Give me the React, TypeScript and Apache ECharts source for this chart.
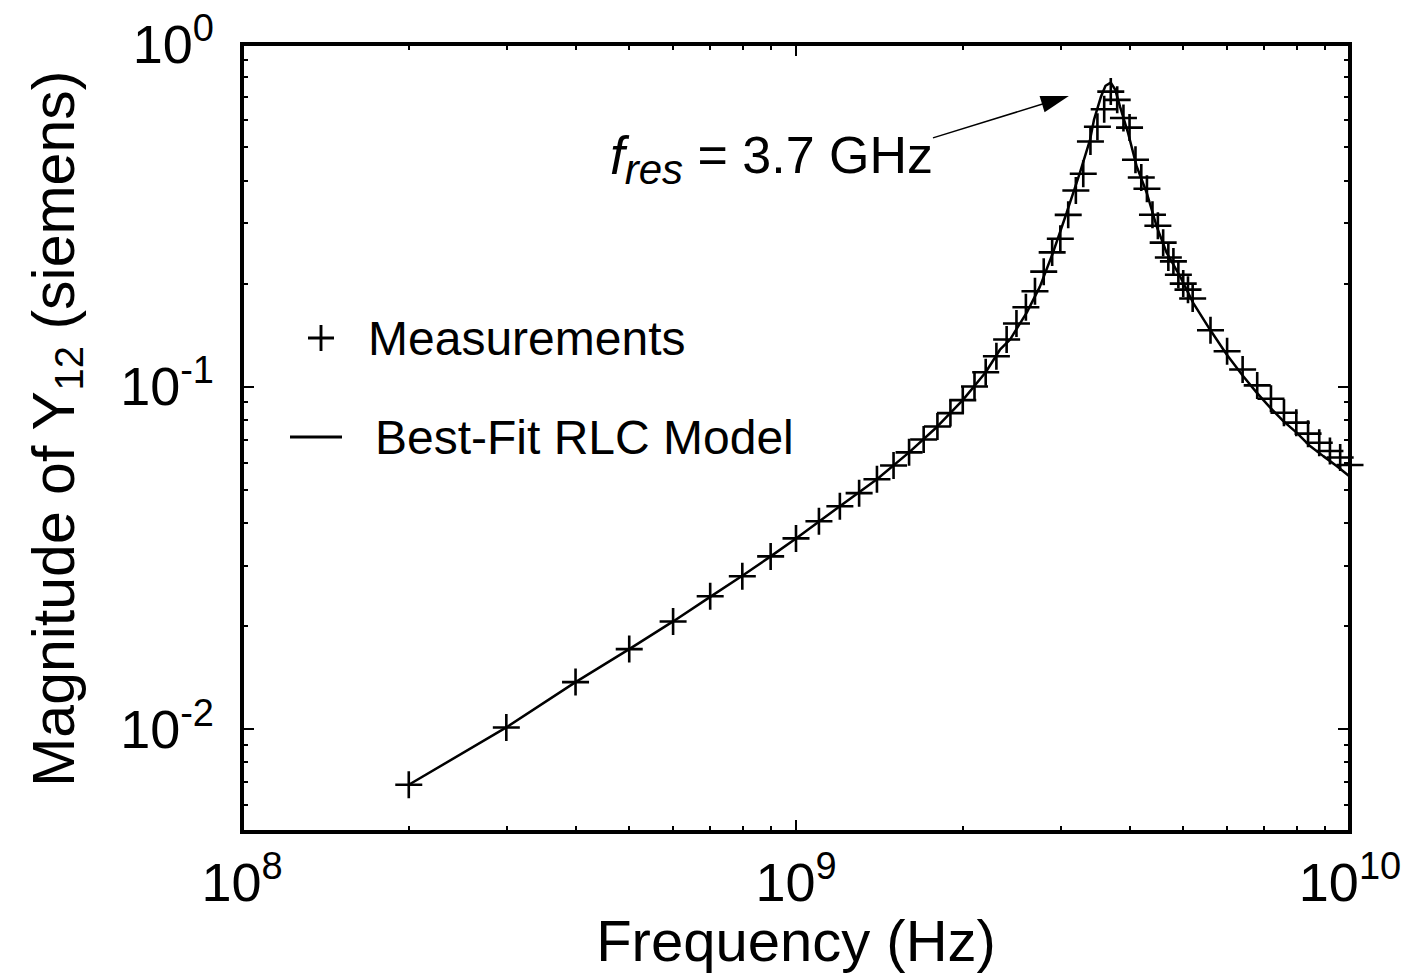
import React, { useEffect, useRef } from 'react';
import * as echarts from 'echarts';

const FONT = '"Liberation Sans", Arial, Helvetica, sans-serif';

// Measured |Y12| (siemens) vs frequency (GHz)
const measFreqGHz = [
  0.2, 0.3, 0.4, 0.5, 0.6, 0.7, 0.8, 0.9, 1.0, 1.1, 1.2, 1.3, 1.4, 1.5, 1.6, 1.7, 1.8, 1.9,
  2.0, 2.1, 2.2, 2.3, 2.4, 2.5, 2.6, 2.7, 2.8, 2.9, 3.0, 3.1, 3.2, 3.3, 3.4, 3.5, 3.6, 3.7,
  3.8, 3.9, 4.0, 4.1, 4.2, 4.3, 4.4, 4.5, 4.6, 4.7, 4.8, 4.9, 5.0, 5.1, 5.2, 5.6, 6.0, 6.4,
  6.8, 7.2, 7.6, 8.0, 8.4, 8.8, 9.2, 9.6, 10.0,
];
const measMag = [
  0.00687, 0.0101, 0.0137, 0.0171, 0.0206, 0.0244, 0.0279, 0.0319, 0.036, 0.0404, 0.0447,
  0.0488, 0.0536, 0.0588, 0.0642, 0.07, 0.0764, 0.0836, 0.0912, 0.1, 0.11, 0.1225, 0.1371,
  0.1527, 0.1703, 0.1896, 0.2164, 0.2463, 0.27, 0.317, 0.3735, 0.418, 0.519, 0.573, 0.645,
  0.726, 0.687, 0.608, 0.57, 0.459, 0.4076, 0.378, 0.3172, 0.2946, 0.263, 0.238, 0.2318,
  0.212, 0.1997, 0.1917, 0.1806, 0.1459, 0.1267, 0.1121, 0.1007, 0.0921, 0.0838, 0.0784,
  0.0728, 0.0685, 0.0648, 0.062, 0.059,
];

// Best-fit RLC model curve
const fitFreqGHz = [
  0.2, 0.3, 0.4, 0.5, 0.6, 0.7, 0.8, 0.9, 1.0, 1.2, 1.4, 1.6, 1.8, 2.0, 2.2, 2.334, 2.434,
  2.609, 2.756, 2.91, 3.08, 3.254, 3.394, 3.45, 3.55, 3.62, 3.7, 3.77, 3.845, 3.975, 4.121,
  4.296, 4.477, 4.667, 4.933, 5.207, 5.588, 5.99, 6.4, 6.78, 7.17, 7.58, 8.01, 8.47, 8.95,
  9.46, 10.0,
];
const fitMag = [
  0.00687, 0.0101, 0.0137, 0.0171, 0.0206, 0.0243, 0.028, 0.0319, 0.036, 0.0447, 0.0536,
  0.0642, 0.0764, 0.0912, 0.11, 0.128, 0.137, 0.1643, 0.1957, 0.2458, 0.3216, 0.4206, 0.525,
  0.6, 0.7, 0.755, 0.771, 0.735, 0.656, 0.5502, 0.4387, 0.3678, 0.2934, 0.2458, 0.2098,
  0.1758, 0.1466, 0.124, 0.1076, 0.0961, 0.0869, 0.0792, 0.0733, 0.067, 0.0626, 0.0586,
  0.0545,
];

const xMajorTicks = [1e8, 1e9, 1e10];
const xMinorTicks = [2e8, 3e8, 4e8, 5e8, 6e8, 7e8, 8e8, 9e8, 2e9, 3e9, 4e9, 5e9, 6e9, 7e9, 8e9, 9e9];
const yMajorTicks = [0.01, 0.1, 1];
const yMinorTicks = [0.006, 0.007, 0.008, 0.009, 0.02, 0.03, 0.04, 0.05, 0.06, 0.07, 0.08, 0.09, 0.2, 0.3, 0.4, 0.5, 0.6, 0.7, 0.8, 0.9];

// annotation arrow (data coordinates): from text to resonance peak
const arrowFrom = [1.767e9, 0.532];
const arrowTo = [2.94e9, 0.686];

const crossPath = 'path://M0,12.2H27V14.8H0Z M12.2,0H14.8V27H12.2Z';
const legendCross = 'path://M0,12H27V15H0Z M12,0H15V27H12Z';
const legendLine = 'path://M0,0H52V3H0Z';

const labelRich = {
  m: { fontSize: 54, lineHeight: 70, fontFamily: FONT, color: '#000' },
  s: { fontSize: 38, lineHeight: 38, verticalAlign: 'top', fontFamily: FONT, color: '#000' },
};
const powFmt = (v: number) => '{m|10}{s|' + Math.round(Math.log10(v)) + '}';

function makeAxis(kind: 'x' | 'y', position: string, major: boolean, withLabels: boolean) {
  const isX = kind === 'x';
  const ticks = major ? (isX ? xMajorTicks : yMajorTicks) : isX ? xMinorTicks : yMinorTicks;
  const ax: any = {
    type: 'log',
    logBase: 10,
    min: isX ? 1e8 : 0.005,
    max: isX ? 1e10 : 1,
    position,
    gridIndex: 0,
    axisLine: {
      show: major,
      onZero: false,
      lineStyle: { color: '#000', width: 4, cap: 'square' },
    },
    axisTick: {
      show: true,
      inside: true,
      length: major ? 12 : 6,
      customValues: ticks,
      lineStyle: { color: '#000', width: 2 },
    },
    axisLabel: withLabels
      ? {
          show: true,
          customValues: isX ? xMajorTicks : yMajorTicks,
          formatter: powFmt,
          margin: isX ? 15 : 28,
          rich: labelRich,
          color: '#000',
          fontFamily: FONT,
        }
      : { show: false },
    splitLine: { show: false },
    minorTick: { show: false },
    minorSplitLine: { show: false },
    silent: true,
  };
  if (withLabels && isX) {
    ax.name = 'Frequency (Hz)';
    ax.nameLocation = 'middle';
    ax.nameGap = 79;
    ax.nameMoveOverlap = false;
    ax.nameTextStyle = { fontSize: 58, lineHeight: 58, color: '#000', fontFamily: FONT };
  }
  if (withLabels && !isX) {
    ax.name = 'Magnitude of Y{sub|12} (siemens)';
    ax.nameLocation = 'middle';
    ax.nameGap = 153;
    ax.nameMoveOverlap = false;
    ax.nameTextStyle = {
      fontSize: 59,
      lineHeight: 70,
      color: '#000',
      fontFamily: FONT,
      padding: [0, 0, 0, 18],
      rich: {
        sub: { fontSize: 40, lineHeight: 38, verticalAlign: 'bottom', color: '#000', fontFamily: FONT },
      },
    };
  }
  return ax;
}

export default function App() {
  const ref = useRef<HTMLDivElement>(null);
  useEffect(() => {
    document.body.style.margin = '0';
    const chart = echarts.init(ref.current!, null, { renderer: 'svg' });
    const measData = measFreqGHz.map((f, i) => [f * 1e9, measMag[i]]);
    const fitData = fitFreqGHz.map((f, i) => [f * 1e9, fitMag[i]]);
    const option: any = {
      animation: false,
      backgroundColor: '#fff',
      textStyle: { fontFamily: FONT, color: '#000' },
      grid: {
        left: 242,
        right: 73,
        top: 44,
        bottom: 145,
        containLabel: false,
        outerBoundsMode: 'none',
      },
      xAxis: [
        makeAxis('x', 'bottom', true, true),
        makeAxis('x', 'bottom', false, false),
        makeAxis('x', 'top', true, false),
        makeAxis('x', 'top', false, false),
      ],
      yAxis: [
        makeAxis('y', 'left', true, true),
        makeAxis('y', 'left', false, false),
        makeAxis('y', 'right', true, false),
        makeAxis('y', 'right', false, false),
      ],
      legend: [
        {
          data: [{ name: 'Measurements', icon: legendCross }],
          left: 308,
          top: 312,
          orient: 'vertical',
          itemWidth: 34,
          itemHeight: 26,
          padding: 0,
          selectedMode: false,
          textStyle: { fontSize: 48, lineHeight: 52, color: '#000', fontFamily: FONT, padding: [0, 0, 0, 25] },
        },
        {
          data: [{ name: 'Best-Fit RLC Model', icon: legendLine }],
          left: 290,
          top: 411,
          orient: 'vertical',
          itemWidth: 52,
          itemHeight: 26,
          padding: 0,
          selectedMode: false,
          textStyle: { fontSize: 48, lineHeight: 52, color: '#000', fontFamily: FONT, padding: [0, 0, 0, 28] },
        },
      ],
      series: [
        {
          type: 'line',
          name: 'Best-Fit RLC Model',
          data: fitData,
          symbol: 'none',
          showSymbol: false,
          lineStyle: { color: '#000', width: 2.5 },
          itemStyle: { color: '#000' },
          silent: true,
          z: 2,
          markLine: {
            silent: true,
            animation: false,
            symbol: ['none', 'triangle'],
            label: { show: false },
            lineStyle: { color: '#000', width: 1.5, type: 'solid' },
            emphasis: { disabled: true },
            data: [
              [
                { coord: arrowFrom, symbol: 'none' },
                { coord: arrowTo, symbol: 'triangle', symbolSize: [17, 28], itemStyle: { color: '#000' } },
              ],
            ],
          },
        },
        {
          type: 'scatter',
          name: 'Measurements',
          data: measData,
          symbol: crossPath,
          symbolSize: 27,
          itemStyle: { color: '#000', opacity: 1 },
          silent: true,
          z: 3,
        },
      ],
      graphic: [
        {
          type: 'text',
          x: 610,
          y: 120,
          silent: true,
          style: {
            text: '{f|f}{r|res}{n| = 3.7 GHz}',
            align: 'left',
            verticalAlign: 'top',
            fill: '#000',
            rich: {
              f: { fontSize: 53, lineHeight: 70, fontStyle: 'italic', fontFamily: FONT, fill: '#000' },
              r: { fontSize: 42, lineHeight: 38, fontStyle: 'italic', verticalAlign: 'bottom', fontFamily: FONT, fill: '#000' },
              n: { fontSize: 52, lineHeight: 70, fontFamily: FONT, fill: '#000' },
            },
          },
        },
      ],
    };
    chart.setOption(option);
    return () => chart.dispose();
  }, []);
  return <div ref={ref} style={{ width: 1423, height: 977 }} />;
}
